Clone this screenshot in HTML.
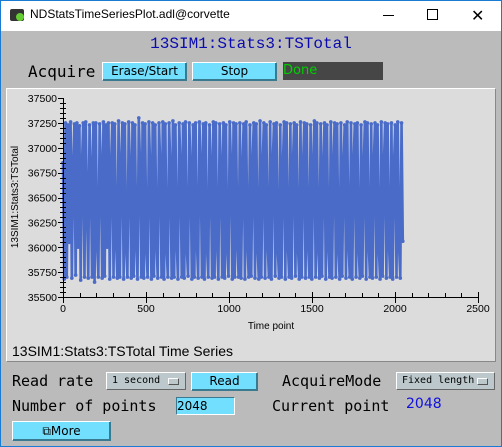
<!DOCTYPE html>
<html><head><meta charset="utf-8"><style>
body{margin:0;width:502px;height:447px;overflow:hidden;background:#bbbbbb;font-family:"Liberation Sans",sans-serif;position:relative}
.a{position:absolute}
.mono{font-family:"Liberation Mono","DejaVu Sans Mono",monospace}
.btn{position:absolute;background:#73dfff;border:1px solid #fff;border-right-color:#3a7a90;border-bottom-color:#3a7a90;box-shadow:inset -1px -1px 0 #3a7a90;font-family:"DejaVu Sans",sans-serif;font-size:12px;text-align:center;color:#000;box-sizing:border-box}
.menu{position:absolute;background:#bcc8cc;border:1px solid #fff;border-right-color:#666;border-bottom-color:#666;font-family:"DejaVu Sans Mono",monospace;font-size:10px;box-sizing:border-box;padding-left:5px}
.menu i{position:absolute;right:6px;top:5px;width:9px;height:5px;background:#bcc8cc;border:1px solid #fff;border-right-color:#555;border-bottom-color:#555}
.lbl{position:absolute;font-family:"DejaVu Sans Mono","Liberation Mono",monospace;font-size:15px;color:#000}
</style></head><body>
<div class="a" style="left:0;top:0;width:500px;height:445px;border:1px solid #1a7bd4"></div>
<div class="a" style="left:1px;top:1px;width:500px;height:30px;background:#fff"></div>
<div class="a" style="left:10px;top:9px;width:14px;height:12px;background:#333;border-radius:2px"><div style="position:absolute;left:6px;top:4px;width:8px;height:8px;background:#6c3;border-radius:50%"></div></div>
<div class="a" style="left:30px;top:7px;font-size:12px;color:#000">NDStatsTimeSeriesPlot.adl@corvette</div>
<div class="a" style="left:383px;top:15px;width:11px;height:1px;background:#000"></div>
<div class="a" style="left:427px;top:9px;width:9px;height:9px;border:1px solid #000"></div>
<div class="a" style="left:471px;top:6px;font-size:16px;color:#000">✕</div>

<div class="a mono" style="left:0;width:502px;top:35px;text-align:center;font-size:16px;color:#0a0ab0">13SIM1:Stats3:TSTotal</div>
<div class="lbl" style="left:28px;top:62px;font-size:16px">Acquire</div>
<div class="btn" style="left:102px;top:62px;width:85px;height:19px;line-height:17px">Erase/Start</div>
<div class="btn" style="left:192px;top:62px;width:85px;height:19px;line-height:17px">Stop</div>
<div class="a" style="left:283px;top:62px;width:100px;height:18px;background:#464646;color:#00d000;font-family:'DejaVu Sans',sans-serif;font-size:13px;line-height:17px">Done</div>

<div class="a" style="left:6px;top:88px;width:488px;height:272px;background:#dcdcdc;border:1px solid #fff;border-right-color:#888;border-bottom-color:#888"></div>
<svg class="a" style="left:0;top:0" width="502" height="447">
<g id="marks"></g>
<g id="axes"></g>
<text x="18" y="197" transform="rotate(-90 18 197)" text-anchor="middle" font-size="10" font-family="Liberation Sans">13SIM1:Stats3:TSTotal</text>
<text x="271" y="329" text-anchor="middle" font-size="10" font-family="Liberation Sans">Time point</text>
<text x="12" y="356" font-size="14" font-family="Liberation Sans">13SIM1:Stats3:TSTotal Time Series</text>
</svg>

<div class="lbl" style="left:12px;top:372px">Read rate</div>
<div class="menu" style="left:106px;top:372px;width:80px;height:18px;line-height:16px">1 second<i></i></div>
<div class="btn" style="left:191px;top:372px;width:67px;height:19px;line-height:17px">Read</div>
<div class="lbl" style="left:282px;top:372px">AcquireMode</div>
<div class="menu" style="left:396px;top:372px;width:99px;height:18px;line-height:16px">Fixed length<i></i></div>
<div class="lbl" style="left:12px;top:397px">Number of points</div>
<div class="a" style="left:176px;top:397px;width:59px;height:18px;box-sizing:border-box;background:#73dfff;border:1px solid #3a7a90;border-right-color:#fff;border-bottom-color:#fff;font-family:'DejaVu Sans',sans-serif;font-size:12px;line-height:16px">2048</div>
<div class="lbl" style="left:272px;top:397px">Current point</div>
<div class="a" style="left:406px;top:396px;font-family:'DejaVu Sans',sans-serif;font-size:14px;color:#1010e0">2048</div>
<div class="btn" style="left:12px;top:421px;width:99px;height:20px;line-height:18px">⧉More</div>

<script>
const yTicks=[35500,35750,36000,36250,36500,36750,37000,37250,37500];
const xTicks=[0,500,1000,1500,2000,2500];
const nPoints=2048;
const values=[36850,35680,37250,35700,37230,36050,37260,35690,36800,37240,35720,37250,36000,37220,35670,36820,37250,35700,37260,36450,35690,37230,36780,35700,37250,35650,37250,36050,35700,37240,36820,35690,37260,35710,37230,36000,37250,35680,36800,37250,35700,37240,36060,35690,37270,35700,36830,37250,35680,37240,36000,35700,37260,36790,35690,37250,35710,37230,36050,35680,37300,36820,35700,37250,35690,37240,36000,35700,37260,36800,35680,37250,35710,37230,36050,35690,37250,36810,35700,37260,35680,37240,36000,35700,37250,36790,35690,37270,35700,37230,36060,35680,37250,36820,35700,37240,35690,37260,36000,35710,37250,36800,35680,37230,35700,37250,36050,35690,37260,36830,35700,37240,35680,37250,36000,35700,37230,36810,35690,37260,35700,37250,36050,35680,37240,36800,35700,37250,35690,37230,36000,35710,37260,36820,35680,37250,35700,37240,36060,
35700,37250,35690,36780,37240,35680,37260,36040,35700,37230,35710,36810,37250,35690,37240,36020,35680,37270,35700,36800,37250,35690,37230,36050,35700,37260,35680,36830,37240,35710,37250,36000,35690,37230,35700,36790,37260,35680,37250,36040,35700,37240,35690,36820,37250,35710,37230,36010,35680,37260,35700,36800,37250,35690,37240,36050,35700,37230,35680,36810,37270,35700,37250,36020,35690,37240,35710,36790,37250,35680,37230,36040,35700,37260,35690,36820,37250,35700,37240,36000,35680,37250,35710,36800,37230,35690,37260,36050,35700,37250,35680,36830,37240,35700,37250,36010,35690,37230,35710,36790,37260,35680,37250,36040,35700,37240,35690,36820,37250,35700,37230,36000,35680,37260,35710,36810,37250,35690,37240,36050,35700,37250,35680,36800,37230,35700,37260,36030,35690,37250,36060];
const X0=63,X1=478,Y0=297,Y1=98;
const sx=v=>X0+(v-0)/2500*(X1-X0);
const sy=v=>Y0-(v-35500)/2000*(Y0-Y1);
const NS='http://www.w3.org/2000/svg';
const marks=document.getElementById('marks'),axes=document.getElementById('axes');
let d='';
values.forEach((v,i)=>{const x=sx(i*(nPoints-1)/(values.length-1));d+=(i?'L':'M')+x.toFixed(2)+' '+sy(v).toFixed(2);});
const p=document.createElementNS(NS,'path');
p.setAttribute('d',d);p.setAttribute('fill','none');p.setAttribute('stroke','#4a6cc8');p.setAttribute('stroke-width','2.6');


marks.appendChild(p);
values.forEach((v,i)=>{const c=document.createElementNS(NS,'circle');c.setAttribute('cx',sx(i*(nPoints-1)/(values.length-1)));c.setAttribute('cy',sy(v));c.setAttribute('r','1.8');c.setAttribute('fill','#4a6cc8');


marks.appendChild(c);});
function ln(x1,y1,x2,y2){const l=document.createElementNS(NS,'line');l.setAttribute('x1',x1);l.setAttribute('y1',y1);l.setAttribute('x2',x2);l.setAttribute('y2',y2);l.setAttribute('stroke','#000');l.setAttribute('stroke-width','1');axes.appendChild(l);return l;}
function tx(x,y,s,a){const t=document.createElementNS(NS,'text');t.setAttribute('x',x);t.setAttribute('y',y);t.setAttribute('text-anchor',a);t.setAttribute('font-size','10.5');t.setAttribute('font-family','Liberation Sans');t.textContent=s;axes.appendChild(t);return t;}
ln(X0+0.5,Y1,X0+0.5,Y0+0.5);ln(X0,Y0+0.5,X1,Y0+0.5);
for(let v=35500;v<=37500;v+=50){const y=Math.round(sy(v))+0.5;ln(X0,y,X0+(v%250?3:-5),y);if(v%250)ln(X0,y,X0-3,y);}
for(let v=0;v<=2500;v+=100){const x=Math.round(sx(v))+0.5;ln(x,Y0,x,Y0+(v%500?-4:6));if(v%500==0)ln(x,Y0,x,Y0-5);}
yTicks.forEach(v=>{const t=tx(X0-6,sy(v)+4,String(v),'end');

});
xTicks.forEach(v=>{const t=tx(sx(v),Y0+15,String(v),'middle');

});
</script>
</body></html>
